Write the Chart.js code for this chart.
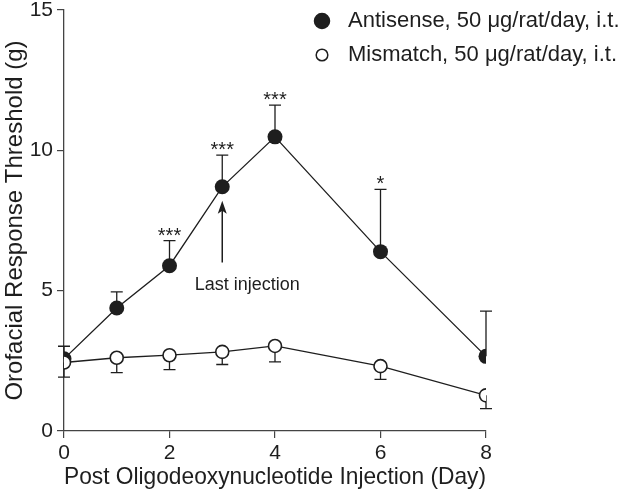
<!DOCTYPE html>
<html>
<head>
<meta charset="utf-8">
<script src="https://cdn.jsdelivr.net/npm/chart.js@4/dist/chart.umd.min.js"></script>
<style>
  html, body { margin: 0; padding: 0; background: #fff; }
  #wrap { width: 633px; height: 494px; position: relative; }
</style>
</head>
<body>
<div id="wrap"><canvas id="chart"></canvas></div>
<script>
// days after injection
const days = [0, 1, 2, 3, 4, 6, 8];

// antisense group: mean and SEM (bars drawn upward)
const antisenseMean = [2.57, 4.38, 5.89, 8.70, 10.48, 6.39, 2.66];
const antisenseSem  = [0.45, 0.58, 0.89, 1.13, 1.13, 2.22, 1.61];
const antisenseStars = ['', '', '***', '***', '***', '*', ''];

// mismatch group: mean and SEM (bars drawn downward)
const mismatchMean = [2.44, 2.61, 2.70, 2.82, 3.03, 2.31, 1.27];
const mismatchSem  = [0.52, 0.53, 0.51, 0.45, 0.57, 0.47, 0.47];

const yTicks = [0, 5, 10, 15];
const xTicks = [0, 2, 4, 6, 8];

// "Last injection" marker
const lastInjectionDay = 3;
const arrowFrom = 6.0;
const arrowTo = 8.2;
const arrowLabelAt = 5.2;

const FONT = '"Liberation Sans", Arial, Helvetica, sans-serif';
const INK = '#1e1e1e';

const toXY = (xs, ys) => xs.map((d, i) => ({x: d, y: ys[i]}));

// error bars + significance stars, drawn under the markers
const errorBars = {
    id: 'errorBars',
    beforeDatasetsDraw(chart) {
        const {ctx, scales: {x, y}} = chart;
        ctx.save();
        ctx.strokeStyle = INK;
        ctx.lineWidth = 1.3;
        const cap = 6;
        const bar = (d, from, to) => {
            const px = x.getPixelForValue(d);
            const p0 = y.getPixelForValue(from);
            const p1 = y.getPixelForValue(to);
            ctx.beginPath();
            ctx.moveTo(px, p0);
            ctx.lineTo(px, p1);
            ctx.moveTo(px - cap, p1);
            ctx.lineTo(px + cap, p1);
            ctx.stroke();
        };
        days.forEach((d, i) => {
            bar(d, antisenseMean[i], antisenseMean[i] + antisenseSem[i]);
            bar(d, mismatchMean[i], mismatchMean[i] - mismatchSem[i]);
        });
        ctx.restore();
    },
    afterDatasetsDraw(chart) {
        const {ctx, scales: {x, y}} = chart;
        ctx.save();
        ctx.fillStyle = INK;
        ctx.font = '20px ' + FONT;
        ctx.textAlign = 'center';
        ctx.textBaseline = 'alphabetic';
        days.forEach((d, i) => {
            if (!antisenseStars[i]) return;
            const px = x.getPixelForValue(d);
            const py = y.getPixelForValue(antisenseMean[i] + antisenseSem[i]);
            ctx.fillText(antisenseStars[i], px, py + 1);
        });

        // arrow for last injection
        const ax = x.getPixelForValue(lastInjectionDay);
        const a0 = y.getPixelForValue(arrowFrom);
        const a1 = y.getPixelForValue(arrowTo);
        ctx.strokeStyle = INK;
        ctx.lineWidth = 1.5;
        ctx.beginPath();
        ctx.moveTo(ax, a0);
        ctx.lineTo(ax, a1 + 8);
        ctx.stroke();
        ctx.beginPath();
        ctx.moveTo(ax, a1);
        ctx.lineTo(ax - 4.5, a1 + 13);
        ctx.lineTo(ax, a1 + 10);
        ctx.lineTo(ax + 4.5, a1 + 13);
        ctx.closePath();
        ctx.fill();

        ctx.font = '18px ' + FONT;
        ctx.textBaseline = 'middle';
        ctx.fillText('Last injection', ax + 25, y.getPixelForValue(arrowLabelAt));
        ctx.restore();
    }
};

// legend at top right
const legendBox = {
    id: 'legendBox',
    afterDraw(chart) {
        const {ctx} = chart;
        ctx.save();
        ctx.font = '22px ' + FONT;
        ctx.textBaseline = 'middle';
        ctx.textAlign = 'left';
        ctx.fillStyle = INK;
        chart.data.datasets.forEach((ds, i) => {
            const cy = 21 + i * 34;
            ctx.beginPath();
            ctx.arc(322, cy, i === 0 ? 7.5 : 5.8, 0, Math.PI * 2);
            ctx.fillStyle = ds.pointBackgroundColor;
            ctx.fill();
            ctx.lineWidth = 1.5;
            ctx.strokeStyle = INK;
            ctx.stroke();
            ctx.fillStyle = INK;
            ctx.fillText(ds.label, 348, cy);
        });
        ctx.restore();
    }
};

new Chart(document.getElementById('chart'), {
    type: 'line',
    data: {
        datasets: [
            {
                label: 'Antisense, 50 \u03bcg/rat/day, i.t.',
                data: toXY(days, antisenseMean),
                borderColor: INK,
                borderWidth: 1.3,
                pointRadius: 7.5,
                pointBackgroundColor: INK,
                pointBorderColor: INK,
                pointBorderWidth: 0,
                tension: 0,
                order: 1
            },
            {
                label: 'Mismatch, 50 \u03bcg/rat/day, i.t.',
                data: toXY(days, mismatchMean),
                borderColor: INK,
                borderWidth: 1.3,
                pointRadius: 6.5,
                pointBackgroundColor: '#ffffff',
                pointBorderColor: INK,
                pointBorderWidth: 1.6,
                tension: 0,
                order: 0
            }
        ]
    },
    options: {
        responsive: true,
        maintainAspectRatio: false,
        animation: false,
        layout: { padding: { left: 0, right: 147, top: 10, bottom: 0 } },
        plugins: {
            legend: { display: false },
            tooltip: { enabled: false }
        },
        scales: {
            x: {
                type: 'linear',
                min: 0,
                max: 8,
                afterFit(scale) {
                    scale.height = 63;
                    scale.paddingLeft = 0;
                    scale.paddingRight = 0;
                },
                afterBuildTicks(scale) { scale.ticks = xTicks.map(v => ({value: v})); },
                grid: { display: true, drawOnChartArea: false, drawTicks: true, tickLength: 7, color: '#444', lineWidth: 1.2 },
                border: { display: true, color: '#444', width: 1.3 },
                ticks: { color: INK, padding: 3, font: { family: FONT, size: 21 } },
                title: {
                    display: true,
                    align: 'start',
                    text: 'Post Oligodeoxynucleotide Injection (Day)',
                    color: INK,
                    padding: { top: 0, bottom: 2 },
                    font: { family: FONT, size: 24 }
                }
            },
            y: {
                min: 0,
                max: 15,
                afterFit(scale) {
                    scale.width = 64;
                    scale.paddingTop = 0;
                    scale.paddingBottom = 0;
                },
                afterBuildTicks(scale) { scale.ticks = yTicks.map(v => ({value: v})); },
                grid: { display: true, drawOnChartArea: false, drawTicks: true, tickLength: 7, color: '#444', lineWidth: 1.2 },
                border: { display: true, color: '#444', width: 1.3 },
                ticks: { color: INK, padding: 4, font: { family: FONT, size: 21 } },
                title: {
                    display: true,
                    text: 'Orofacial Response Threshold (g)',
                    color: INK,
                    padding: { top: 1, bottom: 0 },
                    font: { family: FONT, size: 24 }
                }
            }
        }
    },
    plugins: [errorBars, legendBox]
});
</script>
</body>
</html>
